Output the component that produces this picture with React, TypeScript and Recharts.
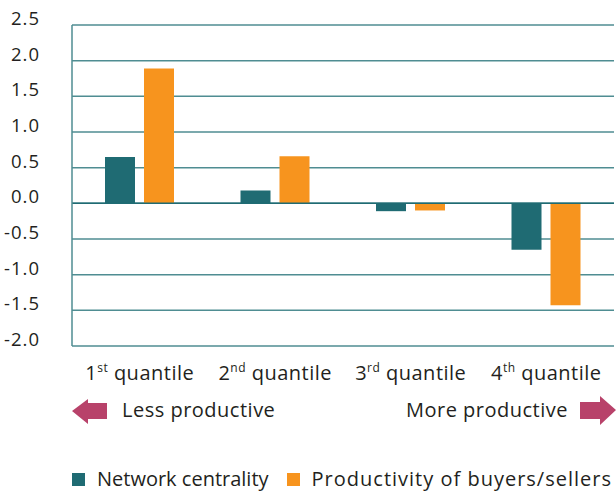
import { Bar, BarChart, CartesianGrid, Legend, ReferenceLine, XAxis, YAxis } from "recharts";

const ordinals = ["1", "2", "3", "4"];
const suffixes = ["st", "nd", "rd", "th"];
const networkCentrality = [0.65, 0.18, -0.11, -0.65];
const productivity = [1.89, 0.66, -0.1, -1.43];
const yTicks = [-2, -1.5, -1, -0.5, 0, 0.5, 1, 1.5, 2, 2.5];

const TEAL = "#1f6b73";
const ORANGE = "#f7941e";
const GRID = "#4f8d92";
const ARROW = "#b8426a";
const TEXT = "#231f20";
const FONT = "'Open Sans', sans-serif";

const data = ordinals.map((o, i) => ({
  name: o + suffixes[i],
  network: networkCentrality[i],
  productivity: productivity[i],
}));

function QuantileTick({ x, y, index }: any) {
  return (
    <text x={x} y={y + 26} textAnchor="middle" fontFamily={FONT} fontSize={20} letterSpacing={0.5} fill={TEXT}>
      <tspan>{ordinals[index]}</tspan>
      <tspan fontSize={12} dy={-8}>{suffixes[index]}</tspan>
      <tspan dy={8}> quantile</tspan>
    </text>
  );
}

function ValueTick({ x, y, payload }: any) {
  return (
    <text x={x - 24} y={y} textAnchor="end" fontFamily={FONT} fontSize={18.5} letterSpacing={1} fill={TEXT}>
      {payload.value.toFixed(1)}
    </text>
  );
}

function LegendContent() {
  const items = [
    { label: "Network centrality", color: TEAL, spacing: 0 },
    { label: "Productivity of buyers/sellers", color: ORANGE, spacing: 1 },
  ];
  return (
    <div style={{ display: "flex", alignItems: "center", fontFamily: FONT, fontSize: 20, lineHeight: "20px", color: TEXT, whiteSpace: "nowrap" }}>
      {items.map((it) => (
        <div key={it.label} style={{ display: "flex", alignItems: "center", marginRight: 18 }}>
          <span style={{ width: 13, height: 13, background: it.color, display: "inline-block", marginRight: 12 }} />
          <span style={{ letterSpacing: it.spacing }}>{it.label}</span>
        </div>
      ))}
    </div>
  );
}

export default function App() {
  return (
    <div style={{ width: 616, height: 495, background: "#fff" }}>
      <style>{`body{margin:0}`}</style>
      <BarChart
        width={616}
        height={495}
        data={data}
        margin={{ top: 25, right: 2, bottom: 109, left: 0 }}
        barGap={9}
        barSize={30}
      >
        <CartesianGrid vertical={false} stroke={GRID} strokeWidth={1.5} />
        <XAxis dataKey="name" axisLine={false} tickLine={false} height={40} tick={<QuantileTick />} interval={0} />
        <YAxis
          width={72}
          domain={[-2, 2.5]}
          ticks={yTicks}
          interval={0}
          axisLine={{ stroke: GRID, strokeWidth: 1.5 }}
          tickLine={false}
          tick={<ValueTick />}
        />
        <ReferenceLine y={0} stroke={TEAL} strokeWidth={1.5} />
        <Bar dataKey="network" fill={TEAL} isAnimationActive={false} />
        <Bar dataKey="productivity" fill={ORANGE} isAnimationActive={false} />
        <Legend
          layout="horizontal"
          verticalAlign="middle"
          align="center"
          content={<LegendContent />}
          wrapperStyle={{ position: "absolute", top: 469, left: 72, width: "auto" }}
        />
        <g>
          <polygon points="72,411 88,399 88,403 107,403 107,419 88,419 88,424" fill={ARROW} />
          <text x={122} y={417} fontFamily={FONT} fontSize={20} letterSpacing={0.5} fill={TEXT}>
            Less productive
          </text>
          <text x={568} y={417} textAnchor="end" fontFamily={FONT} fontSize={20} letterSpacing={0.5} fill={TEXT}>
            More productive
          </text>
          <polygon points="580,402 600,402 600,396 616,410 600,425 600,419 580,419" fill={ARROW} />
        </g>
      </BarChart>
    </div>
  );
}
